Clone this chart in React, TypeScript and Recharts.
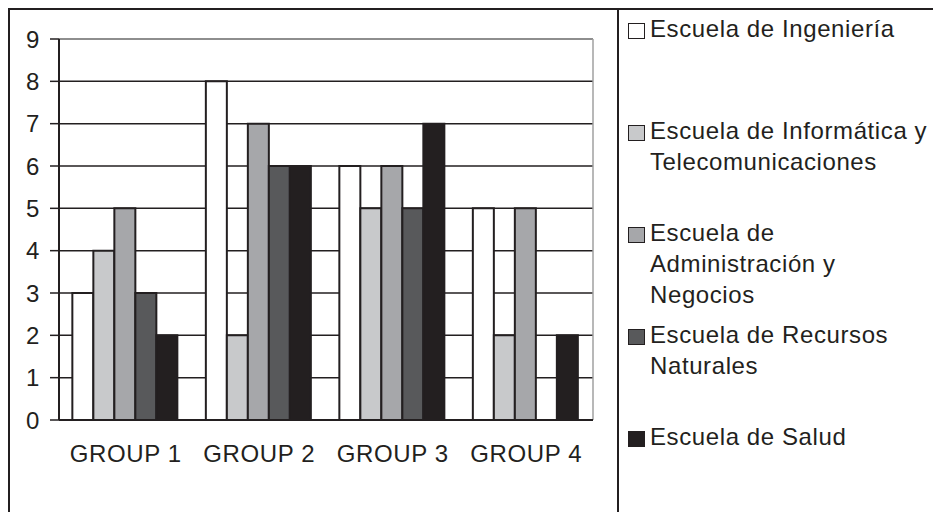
import React from 'react'
import { BarChart, Bar, XAxis, YAxis, CartesianGrid, ReferenceLine } from 'recharts'

const groups = ['GROUP 1', 'GROUP 2', 'GROUP 3', 'GROUP 4']

const ingenieria = [3, 8, 6, 5]
const informatica = [4, 2, 5, 2]
const administracion = [5, 7, 6, 5]
const recursos = [3, 6, 5, 0]
const salud = [2, 6, 7, 2]

const schoolKeys = ['ingenieria', 'informatica', 'administracion', 'recursos', 'salud']
const schoolNames = [
  'Escuela de Ingeniería',
  'Escuela de Informática y Telecomunicaciones',
  'Escuela de Administración y Negocios',
  'Escuela de Recursos Naturales',
  'Escuela de Salud',
]
// legend lines wrap at the panel width
const schoolLegendLines = [
  ['Escuela de Ingeniería'],
  ['Escuela de Informática y', 'Telecomunicaciones'],
  ['Escuela de', 'Administración y', 'Negocios'],
  ['Escuela de Recursos', 'Naturales'],
  ['Escuela de Salud'],
]
const schoolFills = ['#ffffff', '#c8c9cb', '#a6a7aa', '#58595b', '#231f20']

const yTicks = [0, 1, 2, 3, 4, 5, 6, 7, 8, 9]
const edgeTicks = [0, 1, 2, 3, 4]

const INK = '#231f20'
const GRAY = '#a0a0a0'
const FONT_SIZE = 24

const data = groups.map((group, i) => ({
  group,
  ingenieria: ingenieria[i],
  informatica: informatica[i],
  administracion: administracion[i],
  recursos: recursos[i],
  salud: salud[i],
}))

function LegendPanel() {
  return (
    <div
      style={{
        position: 'absolute',
        left: 607,
        top: 0,
        width: 315,
        height: 504,
        borderLeft: `2px solid ${INK}`,
        paddingTop: 3,
        boxSizing: 'border-box',
      }}
    >
      {schoolLegendLines.map((lines, i) => (
        <div key={schoolNames[i]} style={{ height: 102, display: 'flex', alignItems: 'flex-start' }}>
          <div
            style={{
              width: 17,
              height: 16,
              marginLeft: 9,
              marginTop: 10,
              background: schoolFills[i],
              border: `1.5px solid ${INK}`,
              boxSizing: 'border-box',
              flex: 'none',
            }}
          />
          <div style={{ marginLeft: 5, lineHeight: '31px', fontSize: FONT_SIZE, color: INK, whiteSpace: 'nowrap' }}>
            {lines.map((line) => (
              <div key={line}>{line}</div>
            ))}
          </div>
        </div>
      ))}
    </div>
  )
}

export default function App() {
  return (
    <div
      style={{
        position: 'relative',
        width: 924,
        height: 504,
        border: `2px solid ${INK}`,
        fontFamily: '"Liberation Sans", Arial, sans-serif',
        letterSpacing: '0.6px',
      }}
    >
      <BarChart
        width={924}
        height={500}
        data={data}
        margin={{ top: 29, right: 341, left: 0, bottom: 30 }}
        barCategoryGap="10%"
        barGap={0}
      >
        <CartesianGrid vertical={false} stroke={INK} strokeWidth={1.5} />
        <CartesianGrid
          horizontal={false}
          stroke={GRAY}
          strokeWidth={1.5}
          verticalCoordinatesGenerator={({ offset }: any) => [offset.left + offset.width]}
        />
        <ReferenceLine y={9} stroke={GRAY} strokeWidth={1.5} />
        <XAxis
          xAxisId="edges"
          type="number"
          domain={[0, 4]}
          ticks={edgeTicks}
          allowDataOverflow
          height={0}
          tick={false}
          axisLine={false}
          tickSize={8}
          tickLine={{ stroke: INK, strokeWidth: 2 }}
        />
        <XAxis
          dataKey="group"
          height={60}
          axisLine={{ stroke: INK, strokeWidth: 2 }}
          tickLine={false}
          tickSize={0}
          tickMargin={25}
          tick={{ fontSize: FONT_SIZE, fill: INK }}
          interval={0}
        />
        <YAxis
          domain={[0, 9]}
          ticks={yTicks}
          interval={0}
          width={49}
          axisLine={{ stroke: INK, strokeWidth: 2 }}
          tickLine={{ stroke: INK, strokeWidth: 1.5 }}
          tickSize={9}
          tickMargin={10}
          tick={{ fontSize: FONT_SIZE, fill: INK }}
        />
        {schoolKeys.map((key, i) => (
          <Bar
            key={key}
            dataKey={key}
            name={schoolNames[i]}
            fill={schoolFills[i]}
            stroke={INK}
            strokeWidth={2}
            isAnimationActive={false}
          />
        ))}
      </BarChart>
      <LegendPanel />
    </div>
  )
}
